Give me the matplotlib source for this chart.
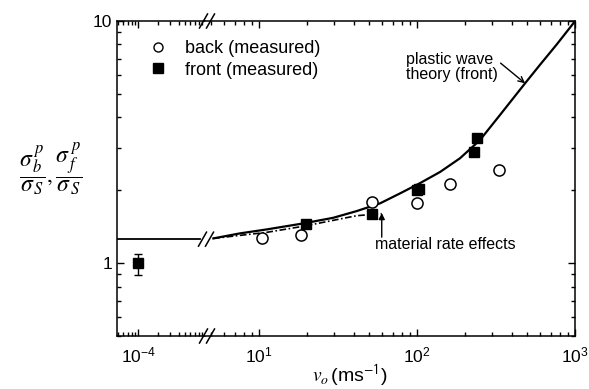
import matplotlib.pyplot as plt
from matplotlib.lines import Line2D
from matplotlib.transforms import IdentityTransform

plt.rcParams['font.family'] = ['Liberation Sans', 'DejaVu Sans']
plt.rcParams['mathtext.fontset'] = 'stix'

# plastic wave theory (front)
theory_v = [5.14, 7.58, 11.2, 19.1, 29.5, 41.5, 58.3, 78, 104.5, 140, 187, 250, 335, 483, 600, 766, 976, 1000]
theory_s = [1.265, 1.327, 1.378, 1.459, 1.539, 1.64, 1.765, 1.94, 2.14, 2.38, 2.71, 3.22, 4.09, 5.53, 6.59, 8.0, 9.78, 10.0]
quasi_static_s = 1.256

# material rate effects (dash-dot)
rate_v = [5.14, 11.2, 19.1, 41.5, 59.8]
rate_s = [1.265, 1.34, 1.42, 1.57, 1.60]

# measured
back_v = [10.5, 18.5, 51.7, 100, 162, 330]
back_s = [1.265, 1.305, 1.78, 1.77, 2.13, 2.42]
front_v = [19.8, 51.7, 100, 103.5, 230, 241]
front_s = [1.445, 1.60, 2.0, 2.03, 2.87, 3.30]
static_v = [1e-4]
static_s = [1.0]
static_err = [[0.11], [0.09]]

W, H = 589, 389
fig = plt.figure(figsize=(W / 100, H / 100), dpi=100)
axL = fig.add_axes([117 / W, 53 / H, 88 / W, 315 / H])
axR = fig.add_axes([205 / W, 53 / H, 370 / W, 315 / H], sharey=axL)

for ax in (axL, axR):
    ax.set_xscale('log')
    ax.set_yscale('log')
    for s in ax.spines.values():
        s.set_linewidth(1.1)
    ax.tick_params(which='both', direction='in', top=True, labelsize=12.5, width=1.0)
    ax.tick_params(which='major', length=5)
    ax.tick_params(which='minor', length=3)
    ax.tick_params(axis='x', pad=7)

axL.set_xlim(4.87e-5, 9.9e-4)
axR.set_xlim(4.55, 1000)
axL.set_ylim(0.5, 10)
axL.set_xticks([1e-4])
axR.set_xticks([10, 100, 1000])
axL.set_yticks([1, 10])
axL.set_yticklabels(['1', '10'])
axL.spines['right'].set_visible(False)
axR.spines['left'].set_visible(False)
axL.tick_params(axis='y', which='both', right=False)
axR.tick_params(axis='y', which='both', left=False, right=True, labelleft=False)

# left segment: quasi-static level and static test
axL.plot([4.87e-5, 8.3e-4], [quasi_static_s] * 2, color='black', lw=1.3)
axL.errorbar(static_v, static_s, yerr=static_err, fmt='s', color='black',
             ms=7, capsize=3, elinewidth=1, capthick=1)

# right segment
axR.plot(theory_v, theory_s, color='black', lw=1.6)
axR.plot(rate_v, rate_s, color='black', lw=1.2, ls=(0, (4, 1.5, 1, 1.5)))
axR.plot(back_v, back_s, 'o', mfc='white', mec='black', mew=1.1, ms=8)
axR.plot(front_v, front_s, 's', color='black', ms=7.5)

axR.text(85, 6.45, 'plastic wave\ntheory (front)', fontsize=11.5,
         ha='left', va='center', linespacing=1.05)
axR.annotate('', xy=(483, 5.53), xytext=(338, 6.7),
             arrowprops=dict(arrowstyle='->', color='black', lw=1.0,
                             shrinkA=0, shrinkB=0))
axR.text(54, 1.19, 'material rate effects', fontsize=11.5, ha='left', va='center')
axR.annotate('', xy=(59.8, 1.61), xytext=(59.8, 1.28),
             arrowprops=dict(arrowstyle='-|>', color='black', lw=1.0,
                             mutation_scale=9, shrinkA=0, shrinkB=0))

# break marks (display pixels, origin bottom-left)
def slash(xc, yc):
    for dx in (-3.5, 3.5):
        fig.add_artist(Line2D([xc + dx - 4, xc + dx + 4], [yc - 7, yc + 7],
                              transform=IdentityTransform(), color='black', lw=1.1))

slash(207, H - 21)
slash(207, H - 336)
y_line = axL.transData.transform((1e-4, quasi_static_s))[1]
slash(206, y_line)

handles = [Line2D([], [], ls='none', marker='o', mfc='white', mec='black', mew=1.0, ms=6.5),
           Line2D([], [], ls='none', marker='s', color='black', ms=6.5)]
fig.legend(handles, ['back (measured)', 'front (measured)'], loc='upper left',
           bbox_to_anchor=(140 / W, 1 - 31 / H), frameon=False, fontsize=13,
           handlelength=1.0, handletextpad=1.0, labelspacing=0.25, borderpad=0)

fig.text(51 / W, 1 - 169 / H,
         r'$\dfrac{\sigma_{\,b}^{\,p}}{\sigma_{\,S}}, \dfrac{\sigma_{\,f}^{\,p}}{\sigma_{\,S}}$',
         fontsize=17, ha='center', va='center')
fig.text(350 / W, 1 - 376 / H, r'$v_o\,$(ms$^{\mathsf{-1}}$)', fontsize=14,
         ha='center', va='center')

fig.savefig('out.png', dpi=100)
